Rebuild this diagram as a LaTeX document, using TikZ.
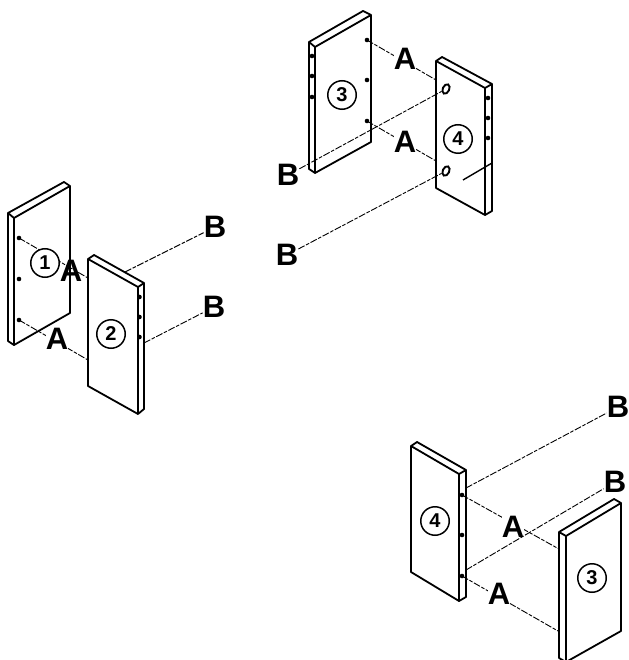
\documentclass[tikz,border=0pt]{standalone}
\usepackage{fontspec}
\setmainfont{Liberation Sans}
\usepackage{xcolor}
\usetikzlibrary{positioning,calc,shapes.geometric}
\tikzset{
    panelline/.style={line width=1.8pt, line join=round, black},
    hairline/.style={line width=0.9pt, black, dash pattern=on 7pt off 1.6pt on 3.5pt off 1.6pt},
    dotmark/.style={circle, fill=black, inner sep=0pt, minimum size=4.6pt},
    holemark/.style={ellipse, draw=black, line width=1.9pt, inner sep=0pt, minimum width=6.5pt, minimum height=10pt, rotate=-25},
    partno/.style={circle, draw=black, fill=white, line width=1.5pt, inner sep=0pt, minimum size=28.5pt, font=\fontsize{20}{20}\selectfont\bfseries},
    letter/.style={inner sep=0pt, fill=white, font=\fontsize{31}{31}\selectfont\bfseries},
    clearletter/.style={letter, fill=none},
}

\begin{document}
\begin{tikzpicture}[x=1pt, y=-1pt]
    \useasboundingbox (0,0) rectangle (628,660);

    % left pair
    \draw[panelline] (8,213) -- (64,182) -- (70,186) -- (70,313) -- (14,345) -- (8,341) -- cycle;
    \draw[panelline] (8,213) -- (14,218) -- (70,186) (14,218) -- (14,345);
    \draw[panelline] (88,259) -- (94,255) -- (144,283) -- (144,409) -- (138,414) -- (88,386) -- cycle;
    \draw[panelline] (88,259) -- (138,287) -- (144,283) (138,287) -- (138,414);
    \node[dotmark] (oneA) at (19,238) {};
    \node[dotmark] (oneM) at (19,279) {};
    \node[dotmark] (oneC) at (19,320) {};
    \node[dotmark] (twoA) at (139.5,297) {};
    \node[dotmark] (twoM) at (139.5,317) {};
    \node[dotmark] (twoC) at (139.5,337) {};
    \coordinate (twoT) at (88,278);
    \coordinate (twoU) at (88,360);
    \coordinate (twoE) at (125,272);
    \coordinate (twoF) at (144,343);
    \node[letter] (bOne) at (215,227) {B};
    \node[letter] (bTwo) at (214,307) {B};
    \draw[hairline] (oneA.center) -- (twoT);
    \draw[hairline] (oneC.center) -- (twoU);
    \draw[hairline] (twoE) -- (bOne);
    \draw[hairline] (twoF) -- (bTwo);
    \node[partno] (one) at (45,263) {1};
    \node[partno] (two) at (111,334) {2};
    \node[clearletter] (aOne) at (71,271) {A};
    \node[letter] (aTwo) at (57,339) {A};

    % top pair
    \draw[panelline] (309,42) -- (363,11) -- (371,15) -- (371,142) -- (315,173) -- (309,169) -- cycle;
    \draw[panelline] (309,42) -- (315,47) -- (371,15) (315,47) -- (315,173);
    \draw[panelline] (436,61) -- (442,57) -- (492,84) -- (492,211) -- (485,215) -- (436,188) -- cycle;
    \draw[panelline] (436,61) -- (485,88) -- (492,84) (485,88) -- (485,215);
    \draw[line width=1.4pt] (463,180) -- (492,163);
    \node[dotmark] (threeA) at (367,40) {};
    \node[dotmark] (threeM) at (367,80) {};
    \node[dotmark] (threeC) at (367,121) {};
    \node[dotmark] (threeD) at (312,56) {};
    \node[dotmark] (threeE) at (312,76) {};
    \node[dotmark] (threeF) at (312,97) {};
    \node[dotmark] (fourA) at (488,98) {};
    \node[dotmark] (fourM) at (488,118) {};
    \node[dotmark] (fourC) at (488,138) {};
    \node[holemark] (holeA) at (446,89) {};
    \node[holemark] (holeB) at (446,171) {};
    \coordinate (fourT) at (436,80);
    \coordinate (fourU) at (436,161);
    \node[letter] (bThree) at (288,175) {B};
    \node[letter] (bFour) at (287,255) {B};
    \draw[hairline] (threeA.center) -- (fourT);
    \draw[hairline] (threeC.center) -- (fourU);
    \draw[hairline] (bThree) -- (holeA);
    \draw[hairline] (bFour) -- (holeB);
    \node[partno] (three) at (342,95) {3};
    \node[partno] (four) at (458,139) {4};
    \node[letter] (aThree) at (405,59) {A};
    \node[letter] (aFour) at (405,142) {A};

    % bottom pair
    \draw[panelline] (411,446) -- (417,442) -- (466,470) -- (466,597) -- (459,601) -- (411,572) -- cycle;
    \draw[panelline] (411,446) -- (459,474) -- (466,470) (459,474) -- (459,601);
    \draw[panelline] (559,532) -- (614,499) -- (621,503) -- (621,631) -- (566,662) -- (559,658) -- cycle;
    \draw[panelline] (559,532) -- (566,536) -- (621,503) (566,536) -- (566,662);
    \node[dotmark] (lowA) at (462,495) {};
    \node[dotmark] (lowM) at (462,535) {};
    \node[dotmark] (lowC) at (462,576) {};
    \coordinate (lowE) at (466,488);
    \coordinate (lowF) at (466,570);
    \coordinate (rightT) at (559,549);
    \coordinate (rightU) at (558,631);
    \node[partno] (lowFour) at (435,521) {4};
    \node[partno] (rightThree) at (592,578) {3};
    \node[letter] (bFive) at (618,407) {B};
    \node[letter] (bSix) at (615,482) {B};
    \draw[hairline] (lowA.center) -- (rightT);
    \draw[hairline] (lowC.center) -- (rightU);
    \node[letter] (aFive) at (513,527) {A};
    \node[letter] (aSix) at (499,594) {A};
    \draw[hairline] (lowE) -- (bFive);
    \draw[hairline] (lowF) -- (bSix);
\end{tikzpicture}
\end{document}
